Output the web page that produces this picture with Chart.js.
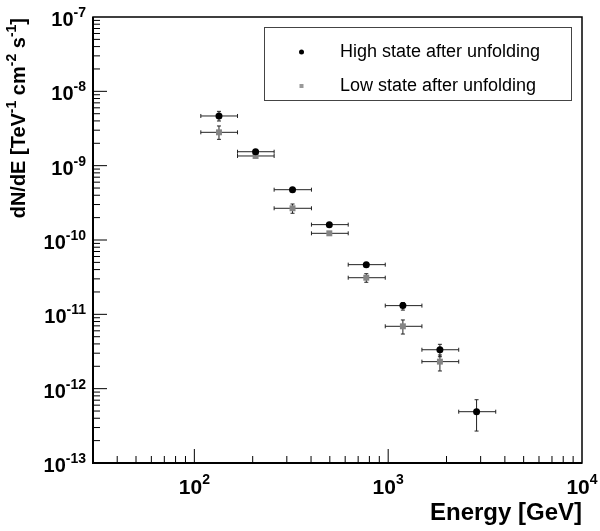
<!DOCTYPE html>
<html>
<head>
<meta charset="utf-8">
<script src="https://cdn.jsdelivr.net/npm/chart.js@4.4.0/dist/chart.umd.min.js"></script>
<style>
  html, body { margin: 0; padding: 0; background: #fff; }
  #wrap { width: 600px; height: 531px; }
</style>
</head>
<body>
<div id="wrap"><canvas id="spectrum" width="600" height="531"></canvas></div>
<script>
// energy bins [GeV]
const energies = [134, 207, 321, 497, 771, 1191, 1849, 2858];
const binLow = [108, 167, 258, 402, 622, 966, 1493, 2312];
const binHigh = [167, 258, 402, 622, 966, 1493, 2312, 3589];

// high state flux [TeV-1 cm-2 s-1]
const highFlux = [4.66e-9, 1.54e-9, 4.75e-10, 1.61e-10, 4.66e-11, 1.31e-11, 3.34e-12, 4.9e-13];
const highErrUp = [5.38e-9, 1.62e-9, 4.95e-10, 1.67e-10, 4.85e-11, 1.44e-11, 3.95e-12, 7.1e-13];
const highErrDown = [3.99e-9, 1.46e-9, 4.55e-10, 1.55e-10, 4.47e-11, 1.14e-11, 2.69e-12, 2.69e-13];

// low state flux (no last bin)
const lowFlux = [2.81e-9, 1.35e-9, 2.67e-10, 1.23e-10, 3.11e-11, 6.9e-12, 2.31e-12];
const lowErrUp = [3.42e-9, 1.42e-9, 3.05e-10, 1.29e-10, 3.52e-11, 8.4e-12, 2.84e-12];
const lowErrDown = [2.26e-9, 1.28e-9, 2.29e-10, 1.17e-10, 2.7e-11, 5.43e-12, 1.73e-12];

const xDecades = [2, 3, 4];
const yDecades = [-13, -12, -11, -10, -9, -8, -7];

const FONT = '"Liberation Sans", Arial, Helvetica, sans-serif';

const makePoints = (flux, up, down) => flux.map((f, i) => ({
  x: energies[i], y: f, xMin: binLow[i], xMax: binHigh[i], yMin: down[i], yMax: up[i]
}));

// error bars behind the markers
const errorBars = {
  id: 'errorBars',
  beforeDatasetsDraw(chart) {
    const { ctx, scales: { x, y } } = chart;
    ctx.save();
    ctx.strokeStyle = '#222';
    ctx.lineWidth = 1;
    chart.data.datasets.forEach((ds) => {
      ds.data.forEach((p) => {
        const px = x.getPixelForValue(p.x), py = y.getPixelForValue(p.y);
        const x0 = x.getPixelForValue(p.xMin), x1 = x.getPixelForValue(p.xMax);
        const y0 = y.getPixelForValue(p.yMin), y1 = y.getPixelForValue(p.yMax);
        ctx.beginPath();
        ctx.moveTo(x0, py); ctx.lineTo(x1, py);
        ctx.moveTo(x0, py - 2); ctx.lineTo(x0, py + 2);
        ctx.moveTo(x1, py - 2); ctx.lineTo(x1, py + 2);
        ctx.moveTo(px, y0); ctx.lineTo(px, y1);
        ctx.moveTo(px - 2, y0); ctx.lineTo(px + 2, y0);
        ctx.moveTo(px - 2, y1); ctx.lineTo(px + 2, y1);
        ctx.stroke();
      });
    });
    ctx.restore();
  }
};

function drawPow(ctx, exp, cx, baseY, align, baseSize, expSize, expRaise) {
  ctx.font = `bold ${baseSize}px ${FONT}`;
  const wb = ctx.measureText('10').width;
  ctx.font = `bold ${expSize}px ${FONT}`;
  const we = ctx.measureText(exp).width;
  let left = align === 'right' ? cx - wb - we : cx - (wb + we) / 2;
  ctx.textAlign = 'left';
  ctx.textBaseline = 'alphabetic';
  ctx.font = `bold ${baseSize}px ${FONT}`;
  ctx.fillText('10', left, baseY);
  ctx.font = `bold ${expSize}px ${FONT}`;
  ctx.fillText(exp, left + wb, baseY - expRaise);
}

// ROOT-like frame, inner ticks, labels, titles and legend
const frame = {
  id: 'frame',
  afterDraw(chart) {
    const { ctx, chartArea: a, scales: { x, y } } = chart;
    ctx.save();
    ctx.fillStyle = '#000';
    ctx.strokeStyle = '#000';

    // ticks
    ctx.lineWidth = 1;
    ctx.beginPath();
    for (let d = 1; d <= 3; d++) {
      for (let k = 1; k <= 9; k++) {
        const v = k * Math.pow(10, d);
        if (v < x.min || v >= x.max) continue;
        const px = x.getPixelForValue(v);
        const len = k === 1 ? 14 : 7;
        ctx.moveTo(px, a.bottom); ctx.lineTo(px, a.bottom - len);
      }
    }
    for (let d = -13; d <= -8; d++) {
      for (let k = 1; k <= 9; k++) {
        const v = k * Math.pow(10, d);
        if (v <= y.min * 0.999 || v >= y.max) continue;
        const py = y.getPixelForValue(v);
        const len = k === 1 ? 14 : 7;
        ctx.moveTo(a.left, py); ctx.lineTo(a.left + len, py);
      }
    }
    ctx.stroke();

    // frame
    ctx.lineWidth = 1.5;
    ctx.strokeRect(a.left, a.top, a.right - a.left, a.bottom - a.top);
    ctx.lineWidth = 2;
    ctx.beginPath();
    ctx.moveTo(a.left, a.top); ctx.lineTo(a.left, a.bottom); ctx.lineTo(a.right, a.bottom);
    ctx.stroke();

    // tick labels
    xDecades.forEach((d) => {
      drawPow(ctx, String(d), x.getPixelForValue(Math.pow(10, d)), a.bottom + 31, 'center', 21, 14, 10);
    });
    yDecades.forEach((d) => {
      drawPow(ctx, String(d), 86, y.getPixelForValue(Math.pow(10, d)) + 9, 'right', 20, 14, 9);
    });

    // x title
    ctx.font = `bold 24px ${FONT}`;
    ctx.textAlign = 'right';
    ctx.textBaseline = 'alphabetic';
    ctx.fillText('Energy [GeV]', a.right, 520);

    // y title (rotated, end aligned with top of axis)
    const parts = [['dN/dE [TeV', 0], ['-1', 1], [' cm', 0], ['-2', 1], [' s', 0], ['-1', 1], [']', 0]];
    const fontFor = (sup) => sup ? `bold 14px ${FONT}` : `bold 20px ${FONT}`;
    let total = 0;
    parts.forEach(([t, sup]) => { ctx.font = fontFor(sup); total += ctx.measureText(t).width; });
    ctx.translate(25, a.top + 1);
    ctx.rotate(-Math.PI / 2);
    ctx.textAlign = 'left';
    let u = -total;
    parts.forEach(([t, sup]) => {
      ctx.font = fontFor(sup);
      ctx.fillText(t, u, sup ? -9 : 0);
      u += ctx.measureText(t).width;
    });
    ctx.setTransform(1, 0, 0, 1, 0, 0);

    // legend
    ctx.lineWidth = 1;
    ctx.strokeStyle = '#444';
    ctx.strokeRect(264.5, 27.5, 307, 73);
    ctx.font = `18px ${FONT}`;
    ctx.textAlign = 'left';
    ctx.textBaseline = 'middle';
    ctx.fillStyle = '#000';
    ctx.fillText(chart.data.datasets[0].label, 340, 52);
    ctx.fillText(chart.data.datasets[1].label, 340, 86);
    ctx.beginPath();
    ctx.arc(301.5, 52, 2.5, 0, Math.PI * 2);
    ctx.fill();
    ctx.fillStyle = '#999';
    ctx.fillRect(299.5, 84, 4, 4);
    ctx.restore();
  }
};

new Chart(document.getElementById('spectrum'), {
  type: 'scatter',
  data: {
    datasets: [
      {
        label: 'High state after unfolding',
        data: makePoints(highFlux, highErrUp, highErrDown),
        pointStyle: 'circle',
        pointRadius: 3.5,
        backgroundColor: '#000',
        borderColor: '#000',
        borderWidth: 0,
      },
      {
        label: 'Low state after unfolding',
        data: makePoints(lowFlux, lowErrUp, lowErrDown),
        pointStyle: 'rect',
        pointRadius: 4.2,
        backgroundColor: '#858585',
        borderColor: '#858585',
        borderWidth: 0,
      },
    ],
  },
  options: {
    responsive: false,
    animation: false,
    layout: { padding: { left: 93, top: 17, right: 18, bottom: 68 } },
    scales: {
      x: { type: 'logarithmic', min: 30, max: 10000, display: false },
      y: { type: 'logarithmic', min: 1e-13, max: 1e-7, display: false },
    },
    plugins: {
      legend: { display: false },
      tooltip: { enabled: false },
    },
  },
  plugins: [errorBars, frame],
});
</script>
</body>
</html>
